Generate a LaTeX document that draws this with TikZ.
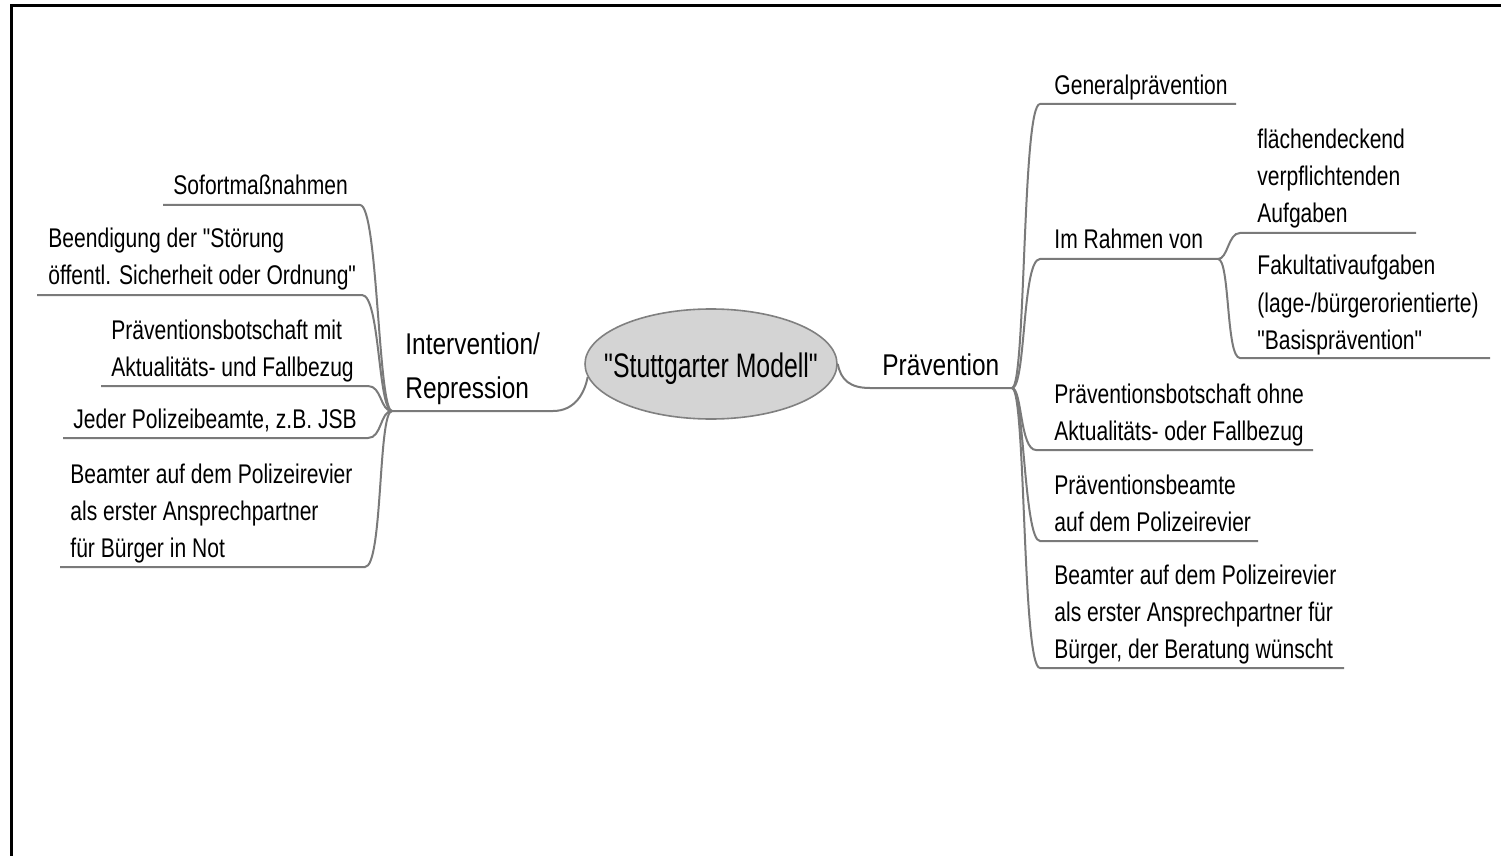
\documentclass[tikz,border=0pt]{standalone}
\usepackage{fontspec}
\setmainfont{Liberation Sans}[FakeStretch=0.78,Ligatures=TeXOff]
\usetikzlibrary{shapes.geometric}
\definecolor{linegray}{HTML}{7A7A7A}
\definecolor{ellgray}{HTML}{808080}
\definecolor{ellfill}{HTML}{D4D4D4}
\newcommand\mlines[1]{\begin{tabular}[b]{@{}l@{}}#1\end{tabular}}
\begin{document}
\begin{tikzpicture}[x=0.5pt,y=-0.5pt,
  leaf/.style={font=\fontsize{13.5}{18.5}\selectfont, inner sep=0pt, anchor=base west},
  branch/.style={font=\fontsize{15}{22}\selectfont\addfontfeature{FakeStretch=0.815}, inner sep=0pt, anchor=base west},
  link/.style={draw=linegray, line width=1pt},
  frame/.style={draw=black, line width=1.5pt}]
\useasboundingbox (0,0) rectangle (1501,856);
\draw[frame] (11,857) -- (11,6) -- (1501,6);

% centre
\node[ellipse, draw=ellgray, fill=ellfill, line width=0.8pt,
      minimum width=126pt, minimum height=55pt, inner sep=0pt,
      text height=0pt, text depth=0pt,
      font=\fontsize{17}{20}\selectfont\addfontfeature{FakeStretch=0.73}] (c) at (711,364)
      {\makebox[0pt]{\raisebox{-6.5pt}{"Stuttgarter Modell"}}};

% main branches
\node[branch] (iv) at (405,398) {\mlines{Intervention/\\Repression}};
\coordinate (lhub) at (392,411);
\coordinate (lend) at (553,411);
\draw[link] (lhub) -- (lend) .. controls +(22,0) and +(-3,16) .. (c.186);

\node[branch] (pv) at (882,375) {Prävention};
\coordinate (rstart) at (870,388);
\coordinate (rhub) at (1012,388);
\draw[link] (c.east) .. controls +(3,16) and +(-20,0) .. (rstart) -- (rhub);

% left leaves
\node[leaf] (l1) at (173,195) {Sofortmaßnahmen};
\coordinate (l1a) at (163,205); \coordinate (l1b) at (360,205);
\draw[link] (l1a) -- (l1b) .. controls +(18,0) and +(-14,0) .. (lhub);

\node[leaf] (l2) at (48,285) {\mlines{Beendigung der "Störung\\öffentl. Sicherheit oder Ordnung"}};
\coordinate (l2a) at (37,295); \coordinate (l2b) at (362,295);
\draw[link] (l2a) -- (l2b) .. controls +(18,0) and +(-14,0) .. (lhub);

\node[leaf] (l3) at (111,376) {\mlines{Präventionsbotschaft mit\\Aktualitäts- und Fallbezug}};
\coordinate (l3a) at (101,386); \coordinate (l3b) at (368,386);
\draw[link] (l3a) -- (l3b) .. controls +(14,0) and +(-12,0) .. (lhub);

\node[leaf] (l4) at (73,428) {Jeder Polizeibeamte, z.B. JSB};
\coordinate (l4a) at (63,438); \coordinate (l4b) at (368,438);
\draw[link] (l4a) -- (l4b) .. controls +(14,0) and +(-12,0) .. (lhub);

\node[leaf] (l5) at (70,557) {\mlines{Beamter auf dem Polizeirevier\\als erster Ansprechpartner\\für Bürger in Not}};
\coordinate (l5a) at (60,567); \coordinate (l5b) at (365,567);
\draw[link] (l5a) -- (l5b) .. controls +(18,0) and +(-14,0) .. (lhub);

% right leaves
\node[leaf] (r1) at (1054,95) {Generalprävention};
\coordinate (r1a) at (1040,104); \coordinate (r1b) at (1236,104);
\draw[link] (rhub) .. controls +(14,0) and +(-18,0) .. (r1a) -- (r1b);

\node[leaf] (r2) at (1054,249) {Im Rahmen von};
\coordinate (r2a) at (1040,259); \coordinate (shub) at (1218,259);
\draw[link] (rhub) .. controls +(14,0) and +(-18,0) .. (r2a) -- (shub);

\node[leaf] (s1) at (1257,223) {\mlines{flächendeckend\\verpflichtenden\\Aufgaben}};
\coordinate (s1a) at (1240,233); \coordinate (s1b) at (1416,233);
\draw[link] (shub) .. controls +(10,0) and +(-12,0) .. (s1a) -- (s1b);

\node[leaf] (s2) at (1257,349) {\mlines{Fakultativaufgaben\\(lage-/bürgerorientierte)\\"Basisprävention"}};
\coordinate (s2a) at (1240,358); \coordinate (s2b) at (1490,358);
\draw[link] (shub) .. controls +(12,0) and +(-14,0) .. (s2a) -- (s2b);

\node[leaf] (r3) at (1054,440) {\mlines{Präventionsbotschaft ohne\\Aktualitäts- oder Fallbezug}};
\coordinate (r3a) at (1036,450); \coordinate (r3b) at (1313,450);
\draw[link] (rhub) .. controls +(10,0) and +(-16,0) .. (r3a) -- (r3b);

\node[leaf] (r4) at (1054,531) {\mlines{Präventionsbeamte\\auf dem Polizeirevier}};
\coordinate (r4a) at (1040,541); \coordinate (r4b) at (1258,541);
\draw[link] (rhub) .. controls +(12,0) and +(-16,0) .. (r4a) -- (r4b);

\node[leaf] (r5) at (1054,658) {\mlines{Beamter auf dem Polizeirevier\\als erster Ansprechpartner für\\Bürger, der Beratung wünscht}};
\coordinate (r5a) at (1040,668); \coordinate (r5b) at (1344,668);
\draw[link] (rhub) .. controls +(14,0) and +(-18,0) .. (r5a) -- (r5b);
\end{tikzpicture}
\end{document}
